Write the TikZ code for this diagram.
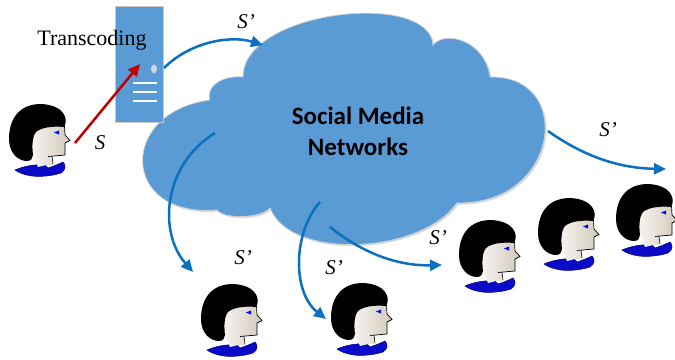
\documentclass[tikz,border=0pt]{standalone}
\usepackage{fontspec}
\setmainfont{Liberation Serif}
\newfontfamily\netfont{Carlito}
\usetikzlibrary{arrows.meta}

\definecolor{cloudblue}{HTML}{5B9BD5}
\definecolor{linkblue}{HTML}{0A70C0}
\definecolor{uplinkred}{HTML}{C00000}
\definecolor{collarblue}{HTML}{0A0AC8}
\definecolor{collardark}{HTML}{00007A}
\definecolor{eyeblue}{HTML}{0000FF}
\definecolor{skinlight}{HTML}{F6F4F0}
\definecolor{skindark}{HTML}{D2C9BA}

\tikzset{
  flow/.style={line width=2.5pt, -{Triangle[length=12pt,width=11pt]}},
  bluelink/.style={flow, draw=linkblue},
  redlink/.style={flow, draw=uplinkred},
  slabel/.style={font=\fontsize{21}{21}\selectfont\itshape, inner sep=0pt},
  serverbox/.style={draw=black!22, line width=1pt, fill=cloudblue,
    minimum width=48pt, minimum height=116pt, inner sep=0pt},
  % cartoon viewer, origin at the top-left corner of the hair
  viewer/.pic={
    % collar
    \fill[collarblue, draw=collardark, line width=0.5pt]
      (7,67) .. controls (16,63) and (28,61) .. (37,62) -- (40,65)
      .. controls (46,63) and (51,61) .. (55,59)
      .. controls (58,62) and (58,67) .. (53,70)
      .. controls (44,73) and (32,74) .. (24,73)
      .. controls (17,72) and (11,70) .. (7,67) -- cycle;
    % face and neck
    \shade[left color=skinlight, right color=skindark]
      (26,30) .. controls (34,24) and (46,23) .. (56,23)
      -- (57,32) -- (62,37.5) -- (57,40) -- (57,52) -- (44,53)
      -- (45,62) -- (38,62) -- (30,64) -- (24,50) -- cycle;
    \draw[black, line width=0.7pt]
      (56.5,23) -- (57,32) -- (62,37.5) -- (57,40) -- (57,52) -- (40,53.5);
    \draw[black, line width=0.6pt] (44,53) -- (45,61);
    % hair
    \fill[black]
      (56,24) .. controls (61,16) and (56,2) .. (33,1)
      .. controls (12,1) and (1,15) .. (1,36)
      .. controls (1,50) and (10,58) .. (19,58)
      .. controls (23,58) and (25,55) .. (25,52)
      .. controls (24,44) and (24,34) .. (28,29)
      .. controls (34,24) and (46,23) .. (56,24) -- cycle;
    % eye
    \fill[eyeblue] (46,29.5) -- (51,27.5) -- (51,31.5) -- cycle;
  }
}

\begin{document}
\begin{tikzpicture}[x=1pt, y=-1pt]
\useasboundingbox (0,0) rectangle (675,359);

% the network cloud
\path[fill=black!30, opacity=0.5, xshift=1.5pt, yshift=-1.5pt]
  (217,210) .. controls (120,218) and (118,112) .. (210,100)
  .. controls (205,85) and (225,75) .. (243,77)
  .. controls (243,10) and (430,-10) .. (433,45)
  .. controls (445,30) and (485,40) .. (490,77)
  .. controls (575,75) and (560,205) .. (457,203)
  .. controls (420,255) and (290,260) .. (270,208)
  .. controls (262,218) and (225,220) .. (217,210) -- cycle;
\path[fill=cloudblue, draw=black!18, line width=0.8pt]
  (217,210) .. controls (120,218) and (118,112) .. (210,100)
  .. controls (205,85) and (225,75) .. (243,77)
  .. controls (243,10) and (430,-10) .. (433,45)
  .. controls (445,30) and (485,40) .. (490,77)
  .. controls (575,75) and (560,205) .. (457,203)
  .. controls (420,255) and (290,260) .. (270,208)
  .. controls (262,218) and (225,220) .. (217,210) -- cycle;

\node[font=\netfont\bfseries\fontsize{25}{31}\selectfont, anchor=base, inner sep=0pt]
  (netA) at (358,124) {Social Media};
\node[font=\netfont\bfseries\fontsize{25}{31}\selectfont, anchor=base, inner sep=0pt]
  (netB) at (358,155) {Networks};

% transcoding server
\node[serverbox] (server) at (139,64) {};
\fill[black!20!cloudblue!30!white] (154,69) ellipse (3pt and 4.5pt);
\foreach \yy in {83,92,101}
  \draw[white, line width=2.6pt] (133,\yy) -- (157,\yy);
\node[font=\fontsize{22}{22}\selectfont, inner sep=0pt, anchor=base] (trans) at (92,45) {Transcoding};

% viewers
\pic at (8,103) {viewer};
\pic at (200,283) {viewer};
\pic at (330,282) {viewer};
\pic at (458,219) {viewer};
\pic at (537,197) {viewer};
\pic at (615,183) {viewer};

% link end points
\coordinate (srcmouth) at (75,143);
\coordinate (srvin) at (140,64);
\coordinate (srvout) at (164,68);
\coordinate (cloudin) at (263,45);
\coordinate (outE) at (548,131);
\coordinate (tipE) at (666,169);
\coordinate (outA) at (215,133);
\coordinate (tipA) at (193,272);
\coordinate (outB) at (320,202);
\coordinate (tipB) at (326,319);
\coordinate (outC) at (330,227);
\coordinate (tipC) at (442,265);

% links
\draw[redlink] (srcmouth) -- (srvin);
\draw[bluelink] (srvout) .. controls (190,42) and (230,35) .. (cloudin);
\draw[bluelink] (outE) .. controls (575,150) and (610,168) .. (tipE);
\draw[bluelink] (outA) .. controls (163,165) and (158,232) .. (tipA);
\draw[bluelink] (outB) .. controls (293,232) and (292,292) .. (tipB);
\draw[bluelink] (outC) .. controls (365,255) and (400,266) .. (tipC);

% stream labels
\node[slabel] (lS) at (100,143) {S};
\node[slabel] (lS1) at (246,22) {S’};
\node[slabel] (lS2) at (608,130) {S’};
\node[slabel] (lS3) at (243,258) {S’};
\node[slabel] (lS4) at (334,268) {S’};
\node[slabel] (lS5) at (438,238) {S’};
\end{tikzpicture}
\end{document}
